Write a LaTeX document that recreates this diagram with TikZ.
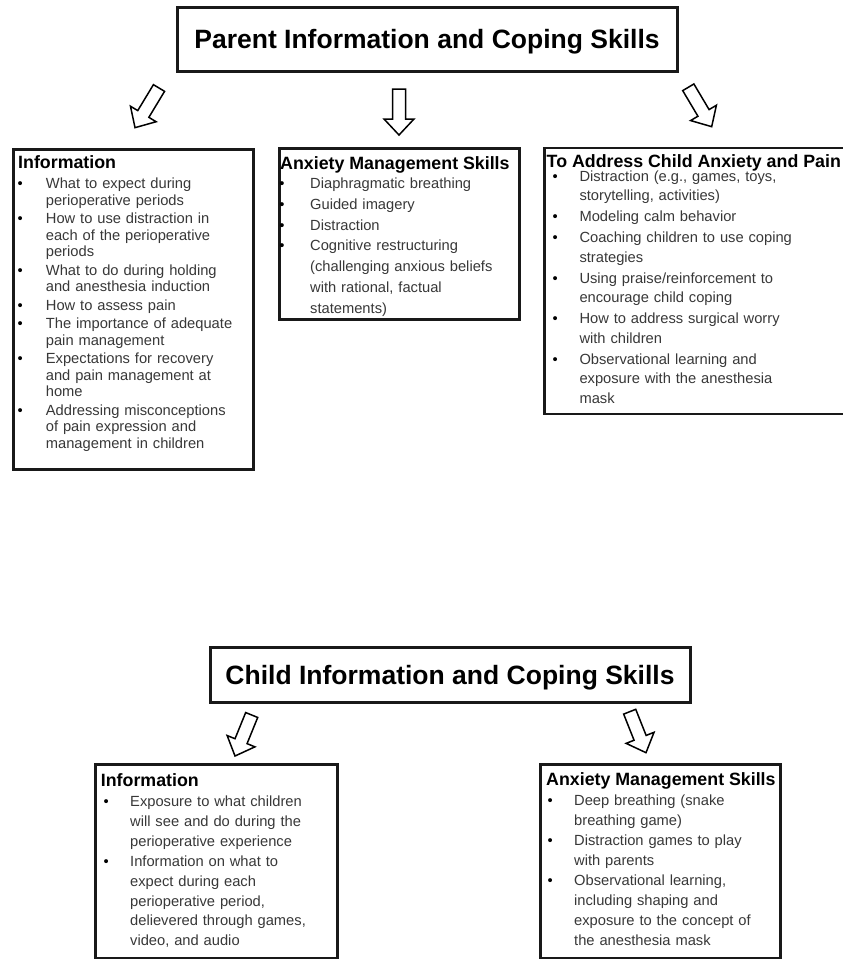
\documentclass[tikz,border=0pt]{standalone}
\usepackage{fontspec}
\setmainfont{Liberation Sans}
\usetikzlibrary{calc}
\setlength{\parindent}{0pt}
\newcommand\bliv{20pt}
\newcommand\blxv{0pt}
\newcommand\setind[2]{\gdef\bliv{#1}\gdef\blxv{#2}}
\newcommand\bl{\makebox[\bliv][l]{\hspace*{\blxv}{\color{black}\textbullet}}}
\newcommand\ct{\hspace*{\bliv}}
\newcommand\hd[1]{{\fontsize{17.8}{17.8}\selectfont\bfseries\color{black}#1}}
\newcommand\blockarrow[2]{\draw[barrow] let \p1=(#1), \p2=(#2), \n1={atan2(\y2-\y1,\x2-\x1)}, \n2={veclen(\x2-\x1,\y2-\y1)} in [shift={(\p1)}, rotate=\n1] (0pt,6.5pt) -- ({\n2-16pt},6.5pt) -- ({\n2-16pt},15pt) -- (\n2,0pt) -- ({\n2-16pt},-15pt) -- ({\n2-16pt},-6.5pt) -- (0pt,-6.5pt) -- cycle;}
\tikzset{
  panel/.style={draw=black!90, line width=2.7pt, fill=white, inner sep=0pt, anchor=north west},
  titlebox/.style={draw=black!90, line width=3pt, fill=white, font=\fontsize{26.5}{30}\selectfont\bfseries, text height=19pt, text depth=0pt, inner sep=0pt},
  listtext/.style={anchor=north west, inner sep=0pt, text width=320pt, align=left, text=black!78},
  barrow/.style={draw=black, line width=1.5pt, fill=white, line join=miter},
}
\begin{document}
\begin{tikzpicture}[x=1pt, y=-1pt]
\useasboundingbox (0,0) rectangle (843,959);
\clip (0,0) rectangle (843,959);
\fill[white] (0,0) rectangle (843,959);

% titles
\node[titlebox, minimum width=500pt, minimum height=64pt] (ptitle) at (427,39) {Parent Information and Coping Skills};
\node[titlebox, minimum width=480pt, minimum height=55pt] (ctitle) at (450,674.5) {Child Information and Coping Skills};

% boxes
\node[panel, minimum width=240pt, minimum height=320pt] (b1) at (12,148) {};
\node[panel, minimum width=240pt, minimum height=171pt] (b2) at (278,147) {};
\node[panel, minimum width=312pt, minimum height=266pt] (b3) at (543,146.5) {};
\node[panel, minimum width=242pt, minimum height=194pt] (b4) at (94,763) {};
\node[panel, minimum width=240pt, minimum height=194pt] (b5) at (539,763) {};

% arrows
\coordinate (a1s) at (159,88);
\coordinate (a1e) at (135,127.7);
\coordinate (a2s) at (399,89);
\coordinate (a2e) at (399,135);
\coordinate (a3s) at (688.3,87.3);
\coordinate (a3e) at (711.7,126.7);
\coordinate (a4s) at (251.7,715);
\coordinate (a4e) at (235,756);
\coordinate (a5s) at (629.7,711.7);
\coordinate (a5e) at (646,752.7);
\blockarrow{a1s}{a1e}
\blockarrow{a2s}{a2e}
\blockarrow{a3s}{a3e}
\blockarrow{a4s}{a4e}
\blockarrow{a5s}{a5e}

% texts
\setind{27.7pt}{-0.6pt}
\node[listtext, font=\fontsize{14.7}{16.7}\selectfont] (l1) at (18,155) {\hd{Information}\\[3.6pt]
\bl What to expect during\\
\ct perioperative periods\\[1.6pt]
\bl How to use distraction in\\
\ct each of the perioperative\\
\ct periods\\[1.6pt]
\bl What to do during holding\\
\ct and anesthesia induction\\[1.6pt]
\bl How to assess pain\\[1.6pt]
\bl The importance of adequate\\
\ct pain management\\[1.6pt]
\bl Expectations for recovery\\
\ct and pain management at\\
\ct home\\[1.6pt]
\bl Addressing misconceptions\\
\ct of pain expression and\\
\ct management in children};

\setind{30pt}{-0.9pt}
\node[listtext, font=\fontsize{14.7}{20.8}\selectfont] (l2) at (280,156.7) {\hd{Anxiety Management Skills}\\[-2.2pt]
\bl Diaphragmatic breathing\\
\bl Guided imagery\\
\bl Distraction\\
\bl Cognitive restructuring\\
\ct (challenging anxious beliefs\\
\ct with rational, factual\\
\ct statements)};

\setind{32.8pt}{5.9pt}
\node[listtext, font=\fontsize{14.7}{19.4}\selectfont] (l3) at (546.5,154) {\hd{To Address Child Anxiety and Pain}\\[-5.4pt]
\bl Distraction (e.g., games, toys,\\
\ct storytelling, activities)\\[1.7pt]
\bl Modeling calm behavior\\[1.7pt]
\bl Coaching children to use coping\\
\ct strategies\\[1.7pt]
\bl Using praise/reinforcement to\\
\ct encourage child coping\\[1.7pt]
\bl How to address surgical worry\\
\ct with children\\[1.7pt]
\bl Observational learning and\\
\ct exposure with the anesthesia\\
\ct mask};

\setind{29.3pt}{2.7pt}
\node[listtext, font=\fontsize{14.7}{19.85}\selectfont] (l4) at (100.7,773.4) {\hd{Information}\\[0.45pt]
\bl Exposure to what children\\
\ct will see and do during the\\
\ct perioperative experience\\
\bl Information on what to\\
\ct expect during each\\
\ct perioperative period,\\
\ct delievered through games,\\
\ct video, and audio};

\setind{28pt}{1.4pt}
\node[listtext, font=\fontsize{14.7}{20.1}\selectfont] (l5) at (546,772.4) {\hd{Anxiety Management Skills}\\[-0.5pt]
\bl Deep breathing (snake\\
\ct breathing game)\\
\bl Distraction games to play\\
\ct with parents\\
\bl Observational learning,\\
\ct including shaping and\\
\ct exposure to the concept of\\
\ct the anesthesia mask};
\end{tikzpicture}
\end{document}
